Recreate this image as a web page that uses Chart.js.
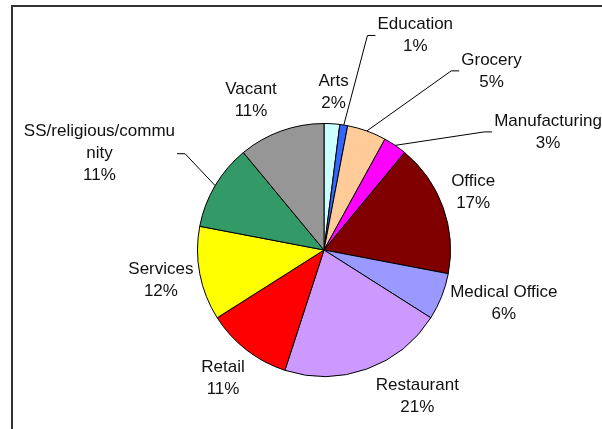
<!DOCTYPE html>
<html>
<head>
<meta charset="utf-8">
<script src="https://cdn.jsdelivr.net/npm/chart.js@4/dist/chart.umd.min.js"></script>
<style>
  html, body { margin: 0; padding: 0; background: #fff; }
  #wrap { position: relative; width: 602px; height: 429px; }
</style>
</head>
<body>
<div id="wrap"><canvas id="pie" width="602" height="429"></canvas></div>
<script>
/* ---------- data ---------- */
const categories = [
  "Arts", "Education", "Grocery", "Manufacturing", "Office", "Medical Office",
  "Restaurant", "Retail", "Services", "SS/religious/commu\nnity", "Vacant"
];
const shares = [2, 1, 5, 3, 17, 6, 21, 11, 12, 11, 11];
const sliceColors = [
  "#CCFFFF", "#3366FF", "#FFCC99", "#FF00FF", "#800000", "#9999FF",
  "#CC99FF", "#FF0000", "#FFFF00", "#339966", "#969696"
];

/* label nudges from the default spot [dx, dy, leader line?] */
const labelNudge = [
  [0, 0, false], [64, -58, true], [111, -30, true], [117, 13, true],
  [0, -4, false], [3, -5, false], [33, -3, false], [-4, 3, false],
  [3, 1, false], [-42, -10, true], [-18, -1, false]
];

const FONT = "17px 'Liberation Sans', Arial, sans-serif";
const LINE_H = 22;

/* ---------- plugins ---------- */
const framePlugin = {
  id: "frame",
  beforeDraw(chart) {
    const ctx = chart.ctx;
    ctx.save();
    ctx.strokeStyle = "#333";
    ctx.lineWidth = 2;
    ctx.beginPath();
    ctx.moveTo(12, chart.height);
    ctx.lineTo(12, 6);
    ctx.lineTo(chart.width, 6);
    ctx.stroke();
    ctx.restore();
  }
};

const pieLabels = {
  id: "pieLabels",
  afterDatasetsDraw(chart) {
    const ctx = chart.ctx;
    const arcs = chart.getDatasetMeta(0).data;
    const total = shares.reduce((a, b) => a + b, 0);
    ctx.save();
    ctx.font = FONT;
    ctx.fillStyle = "#111";
    ctx.textAlign = "center";
    ctx.textBaseline = "middle";

    arcs.forEach((arc, i) => {
      const lines = categories[i].split("\n");
      lines.push(Math.round(shares[i] / total * 100) + "%");
      const w = Math.max(...lines.map(t => ctx.measureText(t).width));
      const h = lines.length * LINE_H;

      const mid = (arc.startAngle + arc.endAngle) / 2;
      const ux = Math.cos(mid), uy = Math.sin(mid);
      const r = arc.outerRadius;
      const R = r + 10;
      const [dx, dy, leader] = labelNudge[i];
      const cx = arc.x + ux * R + ux * w / 2 + dx;
      const cy = arc.y + uy * R + uy * h / 2 + dy;

      if (leader) {
        const sx = arc.x + ux * r, sy = arc.y + uy * r;
        const right = cx > sx;
        const ex = right ? cx - w / 2 - 2 : cx + w / 2 + 2;
        const bx = right ? ex - 8 : ex + 8;
        ctx.strokeStyle = "#000";
        ctx.lineWidth = 1;
        ctx.beginPath();
        ctx.moveTo(sx, sy);
        ctx.lineTo(bx, cy);
        ctx.lineTo(ex, cy);
        ctx.stroke();
      }

      lines.forEach((t, k) => {
        ctx.fillText(t, cx, cy + (k - (lines.length - 1) / 2) * LINE_H);
      });
    });
    ctx.restore();
  }
};

/* ---------- chart ---------- */
new Chart(document.getElementById("pie"), {
  type: "pie",
  data: {
    labels: categories,
    datasets: [{
      data: shares,
      backgroundColor: sliceColors,
      borderColor: "#000",
      borderWidth: 1,
      hoverOffset: 0
    }]
  },
  options: {
    responsive: false,
    animation: false,
    events: [],
    layout: { padding: { left: 197, right: 151, top: 123, bottom: 52 } },
    plugins: {
      legend: { display: false },
      tooltip: { enabled: false }
    }
  },
  plugins: [framePlugin, pieLabels]
});
</script>
</body>
</html>
